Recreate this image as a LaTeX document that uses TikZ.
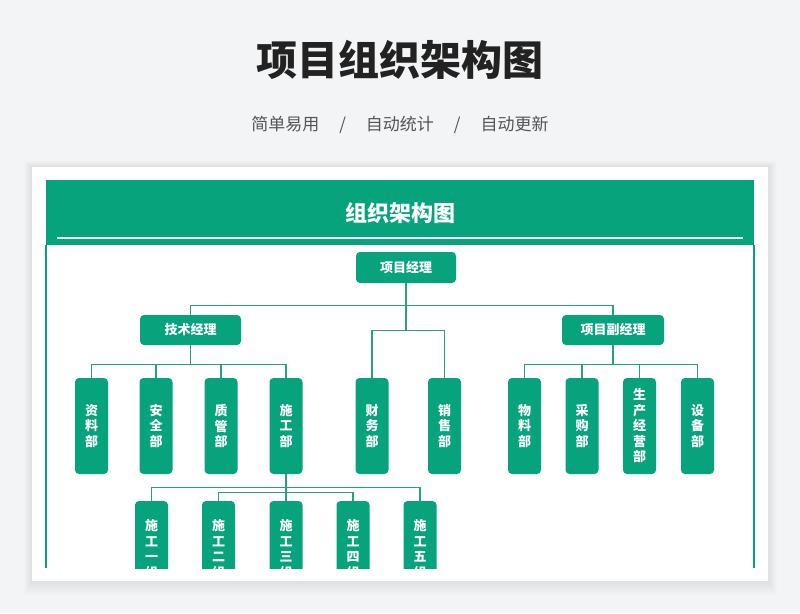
\documentclass[tikz,border=0pt]{standalone}
\usepackage{fontspec}
\setmainfont{Noto Sans CJK SC}
\usepackage{tikz}
\usetikzlibrary{positioning,calc}
\definecolor{pagebg}{HTML}{F3F4F6}
\definecolor{mint}{HTML}{06A37C}
\definecolor{linkgreen}{HTML}{2C9E83}
\definecolor{subgray}{HTML}{555555}
\definecolor{titleink}{HTML}{222222}

\begin{document}
\begin{tikzpicture}[x=1pt,y=1pt,
  every node/.style={align=center,inner sep=0pt},
  boss/.style={fill=mint,rounded corners=4pt,minimum width=101pt,minimum height=30pt,text=white,font=\fontsize{13}{15}\selectfont\bfseries},
  dept/.style={fill=mint,rounded corners=4pt,minimum width=33pt,minimum height=96pt,text=white,font=\fontsize{13}{15.5}\selectfont\bfseries},
  link/.style={draw=linkgreen,line width=1.3pt}]
  \useasboundingbox (0,0) rectangle (800,-613);
  \fill[pagebg] (0,0) rectangle (800,-613);
  \foreach \d in {1,...,10}
    \fill[black,opacity=0.008] ($(32,-167)+(-\d*0.8,\d*0.6)$) rectangle ($(768,-581)+(\d*0.9,-\d*1.4)$);
  \fill[white] (32,-167) rectangle (768,-581);
  \node[text=titleink,font=\fontsize{41}{41}\selectfont\bfseries] (title) at (400,-60) {项目组织架构图};
  \node[text=subgray,font=\fontsize{17}{17}\selectfont] (subtitle) at (400,-125) {简单易用\hspace{20pt}/\hspace{20pt}自动统计\hspace{20pt}/\hspace{20pt}自动更新};
  \fill[mint] (46,-180) rectangle (754,-245);
  \draw[white,line width=1.5pt] (57,-238) -- (743,-238);
  \node[text=white,font=\fontsize{22}{22}\selectfont\bfseries] (cardtitle) at (400,-213) {组织架构图};
  \draw[mint,line width=1.5pt] (46,-245) -- (46,-568);
  \draw[mint,line width=1.5pt] (754,-245) -- (754,-568);
  \begin{scope}
  \clip (46,-245) rectangle (754,-568);
  \node[boss,minimum width=100pt,minimum height=31pt] (pm) at (406,-267.5) {项目经理};
  \node[boss] (tech) at (190.5,-330) {技术经理};
  \node[boss,minimum width=102pt] (vpm) at (613,-330) {项目副经理};
  \node[dept] (zl) at (91.5,-426) {资\\料\\部};
  \node[dept] (aq) at (156,-426) {安\\全\\部};
  \node[dept] (zg) at (221,-426) {质\\管\\部};
  \node[dept] (sg) at (286,-426) {施\\工\\部};
  \node[dept] (cw) at (372,-426) {财\\务\\部};
  \node[dept] (xs) at (444.5,-426) {销\\售\\部};
  \node[dept] (wl) at (524.5,-426) {物\\料\\部};
  \node[dept] (cg) at (582,-426) {采\\购\\部};
  \node[dept] (sc) at (639.5,-426) {生\\产\\经\\营\\部};
  \node[dept] (sb) at (697.5,-426) {设\\备\\部};
  \node[dept] (g1) at (151.5,-549) {施\\工\\一\\组};
  \node[dept] (g2) at (218.5,-549) {施\\工\\二\\组};
  \node[dept] (g3) at (286,-549) {施\\工\\三\\组};
  \node[dept] (g4) at (353,-549) {施\\工\\四\\组};
  \node[dept] (g5) at (420,-549) {施\\工\\五\\组};
  \draw[link] (pm.south) -- ++(0,-22) -| (tech.north);
  \draw[link] (pm.south) -- ++(0,-22) -| (vpm.north);
  \draw[link] (pm.south) -- ++(0,-47) -| (cw.north);
  \draw[link] (pm.south) -- ++(0,-47) -| (xs.north);
  \foreach \k in {zl,aq,zg,sg}
    \draw[link] (tech.south) -- ++(0,-19) -| (\k.north);
  \foreach \k in {wl,cg,sc,sb}
    \draw[link] (vpm.south) -- ++(0,-19) -| (\k.north);
  \draw[link] (sg.south) -- ++(0,-13) -| (g1.north);
  \draw[link] (sg.south) -- ++(0,-13) -| (g5.north);
  \draw[link] (sg.south) -- ++(0,-18) -| (g2.north);
  \draw[link] (sg.south) -- ++(0,-18) -| (g4.north);
  \draw[link] (sg.south) -- (g3.north);
  \end{scope}
\end{tikzpicture}
\end{document}
